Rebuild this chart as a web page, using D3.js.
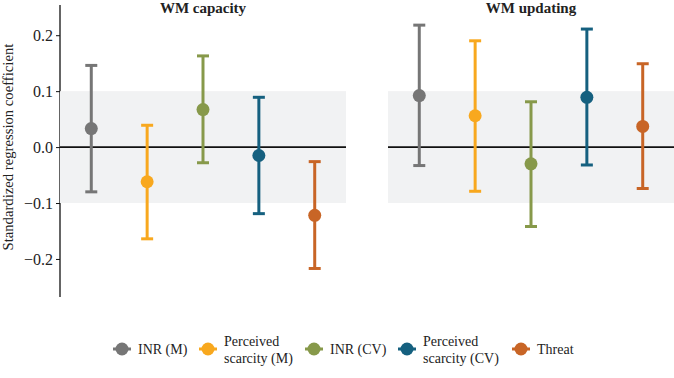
<!DOCTYPE html>
<html><head><meta charset="utf-8">
<script src="https://cdn.jsdelivr.net/npm/d3@7"></script>
<style>body{margin:0;background:#fff}svg{display:block}text{font-family:"Liberation Serif","Times New Roman",serif;fill:#222}</style>
</head><body><svg id="c" width="674" height="378"></svg>
<script>
const panels = ["WM capacity", "WM updating"];
const predictors = ["INR (M)", "Perceived scarcity (M)", "INR (CV)", "Perceived scarcity (CV)", "Threat"];
const legendLines = [["INR (M)"], ["Perceived", "scarcity (M)"], ["INR (CV)"], ["Perceived", "scarcity (CV)"], ["Threat"]];
const colors = ["#767676", "#F8A81E", "#87994A", "#15607F", "#C86526"];
const estCapacity = [0.033, -0.062, 0.067, -0.015, -0.122];
const lowCapacity = [-0.080, -0.164, -0.028, -0.119, -0.217];
const highCapacity = [0.146, 0.039, 0.163, 0.089, -0.026];
const estUpdating = [0.092, 0.056, -0.030, 0.089, 0.037];
const lowUpdating = [-0.033, -0.079, -0.142, -0.032, -0.074];
const highUpdating = [0.218, 0.190, 0.081, 0.211, 0.149];
const yTicks = [-0.2, -0.1, 0.0, 0.1, 0.2];
const band = [-0.1, 0.1];

const est = [estCapacity, estUpdating], low = [lowCapacity, lowUpdating], high = [highCapacity, highUpdating];
const svg = d3.select("#c");
const y = d3.scaleLinear().domain([-0.268, 0.254]).range([297, 5]);
const panelX = [[60, 346], [388, 674]];

// y axis
const ax = svg.append("g").attr("transform", "translate(60,0)")
  .call(d3.axisLeft(y).tickValues(yTicks).tickSize(4).tickPadding(3)
    .tickFormat(d => d3.format(".1f")(d).replace("-", "\u2212")));
ax.attr("font-family", null);
ax.select(".domain").attr("d", `M0,${y.range()[1]}V${y.range()[0]}`).attr("stroke", "#111").attr("stroke-width", 1.3);
ax.selectAll(".tick line").attr("stroke", "#111");
ax.selectAll("text").attr("font-size", 16).attr("fill", "#222").style("font-family", '"Liberation Serif",serif');

svg.append("text").attr("transform", `translate(13,${y(0)}) rotate(-90)`)
  .attr("text-anchor", "middle").attr("font-size", 14.7).text("Standardized regression coefficient");

panels.forEach((p, pi) => {
  const [x0, x1] = panelX[pi];
  const x = d3.scalePoint().domain(predictors).range([x0, x1]).padding(0.56);
  const g = svg.append("g");
  g.append("rect").attr("x", x0).attr("width", x1 - x0)
    .attr("y", y(band[1])).attr("height", y(band[0]) - y(band[1])).attr("fill", "#f1f2f3");
  g.append("line").attr("x1", x0).attr("x2", x1).attr("y1", y(0)).attr("y2", y(0))
    .attr("stroke", "#111").attr("stroke-width", 1.8);
  g.append("text").attr("x", (x0 + x1) / 2).attr("y", 13).attr("text-anchor", "middle")
    .attr("font-size", 15).attr("font-weight", "bold").text(p);
  predictors.forEach((k, i) => {
    const cx = x(k), c = colors[i];
    g.append("line").attr("x1", cx).attr("x2", cx).attr("y1", y(low[pi][i])).attr("y2", y(high[pi][i]))
      .attr("stroke", c).attr("stroke-width", 3);
    [low[pi][i], high[pi][i]].forEach(v => g.append("line").attr("x1", cx - 6).attr("x2", cx + 6)
      .attr("y1", y(v)).attr("y2", y(v)).attr("stroke", c).attr("stroke-width", 3));
    g.append("circle").attr("cx", cx).attr("cy", y(est[pi][i])).attr("r", 6.5).attr("fill", c);
  });
});

// legend
const legX = [122, 208, 314, 407, 521];
const legY = 349;
const lg = svg.append("g");
predictors.forEach((k, i) => {
  const cx = legX[i];
  lg.append("line").attr("x1", cx - 9).attr("x2", cx + 9).attr("y1", legY).attr("y2", legY)
    .attr("stroke", colors[i]).attr("stroke-width", 3);
  lg.append("circle").attr("cx", cx).attr("cy", legY).attr("r", 6.5).attr("fill", colors[i]);
  const t = lg.append("text").attr("x", cx + 16).attr("font-size", 14);
  const lines = legendLines[i];
  lines.forEach((s, j) => {
    t.append("tspan").attr("x", cx + 16)
      .attr("y", legY + 5 + (j - (lines.length - 1) / 2) * 17).text(s);
  });
});
</script></body></html>
